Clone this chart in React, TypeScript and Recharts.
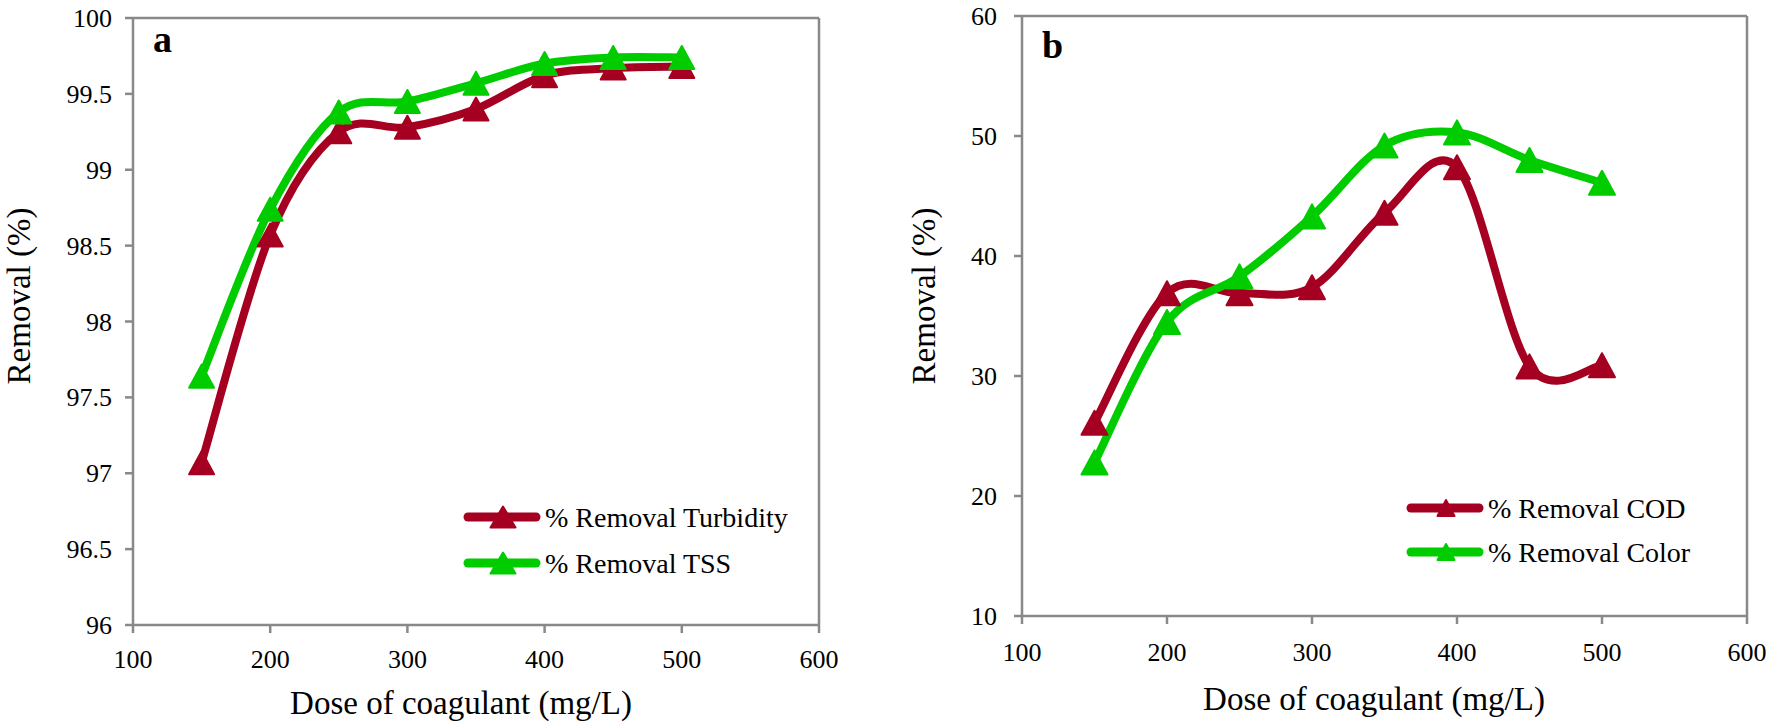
import { LineChart, Line, XAxis, YAxis, ReferenceLine, Legend } from 'recharts'

// coagulant dose (mg/L)
const doses = [150, 200, 250, 300, 350, 400, 450, 500]
// panel a
const turbidity = [97.07, 98.57, 99.25, 99.28, 99.4, 99.62, 99.67, 99.68]
const tss = [97.64, 98.74, 99.38, 99.45, 99.57, 99.7, 99.74, 99.74]
// panel b
const cod = [26.1, 36.9, 36.9, 37.4, 43.6, 47.4, 30.8, 30.9]
const color = [22.8, 34.5, 38.3, 43.3, 49.2, 50.3, 48.0, 46.1]

const xTicks = [100, 200, 300, 400, 500, 600]
const yTicksA = [96, 96.5, 97, 97.5, 98, 98.5, 99, 99.5, 100]
const yTicksB = [10, 20, 30, 40, 50, 60]

const RED = '#A50021'
const GREEN = '#00CC00'
const AXIS = '#898989'
const FONT = "'Liberation Serif', 'Times New Roman', Times, serif"

const dataA = doses.map((dose, i) => ({ dose, turbidity: turbidity[i], tss: tss[i] }))
const dataB = doses.map((dose, i) => ({ dose, cod: cod[i], color: color[i] }))

/**
 * excelSmooth
 * Catmull-Rom style curve, close to Excel's "smoothed line".
 */
function excelSmooth(context: any) {
  let pts: [number, number][] = []
  return {
    areaStart() {},
    areaEnd() {},
    lineStart() {
      pts = []
    },
    lineEnd() {
      const n = pts.length
      if (!n) return
      context.moveTo(pts[0][0], pts[0][1])
      for (let i = 0; i < n - 1; i++) {
        const p0 = pts[i - 1] || pts[i]
        const p1 = pts[i]
        const p2 = pts[i + 1]
        const p3 = pts[i + 2] || p2
        context.bezierCurveTo(
          p1[0] + (p2[0] - p0[0]) / 6,
          p1[1] + (p2[1] - p0[1]) / 6,
          p2[0] - (p3[0] - p1[0]) / 6,
          p2[1] - (p3[1] - p1[1]) / 6,
          p2[0],
          p2[1],
        )
      }
    },
    point(x: number, y: number) {
      pts.push([+x, +y])
    },
  }
}

function Tri({ cx, cy, fill, w = 25, h = 23 }: any) {
  if (cx == null || cy == null) return <g />
  return (
    <polygon
      points={`${cx},${cy - h / 2} ${cx + w / 2},${cy + h / 2} ${cx - w / 2},${cy + h / 2}`}
      fill={fill}
      stroke={fill}
      strokeWidth={2}
      strokeLinejoin="round"
    />
  )
}

function XTick({ x, y, payload }: any) {
  return (
    <text x={x} y={y} dy="0.71em" textAnchor="middle" fontFamily={FONT} fontSize={26} fill="#000">
      {payload.value}
    </text>
  )
}

function YTick({ x, y, payload }: any) {
  return (
    <text x={x} y={y} dy="0.35em" textAnchor="end" fontFamily={FONT} fontSize={26} fill="#000">
      {payload.value}
    </text>
  )
}

interface LegendItem {
  name: string
  color: string
}

function LegendBox({ items, rowH, tw, th }: { items: LegendItem[]; rowH: number; tw: number; th: number }) {
  const w = 78
  return (
    <svg width={380} height={rowH * items.length} style={{ display: 'block' }}>
      {items.map((it, i) => {
        const cy = rowH * i + rowH / 2
        return (
          <g key={it.name}>
            <line x1={5} x2={w - 5} y1={cy} y2={cy} stroke={it.color} strokeWidth={9} strokeLinecap="round" />
            <Tri cx={w / 2 + 1} cy={cy} fill={it.color} w={tw} h={th} />
            <text x={w + 4} y={cy} dy="0.35em" fontFamily={FONT} fontSize={28} fill="#000">
              {it.name}
            </text>
          </g>
        )
      })}
    </svg>
  )
}

export default function App() {
  return (
    <div style={{ position: 'absolute', left: 0, top: 0, width: 1769, height: 724, background: '#fff', fontFamily: FONT }}>
      <div style={{ position: 'absolute', left: 0, top: 0 }}>
        <LineChart width={840} height={724} data={dataA} margin={{ top: 18, right: 21, bottom: 0, left: 0 }}>
          <XAxis
            dataKey="dose"
            type="number"
            domain={[100, 600]}
            ticks={xTicks}
            interval={0}
            height={99}
            stroke={AXIS}
            strokeWidth={2.5}
            tickSize={8}
            tickMargin={17}
            tick={<XTick />}
          />
          <YAxis
            type="number"
            domain={[96, 100]}
            ticks={yTicksA}
            interval={0}
            width={133}
            stroke={AXIS}
            strokeWidth={2.5}
            tickSize={8}
            tickMargin={13}
            tick={<YTick />}
          />
          <ReferenceLine y={100} stroke={AXIS} strokeWidth={2.5} />
          <ReferenceLine x={600} stroke={AXIS} strokeWidth={2.5} />
          <Line
            dataKey="turbidity"
            name="% Removal Turbidity"
            type={excelSmooth as any}
            stroke={RED}
            strokeWidth={8}
            strokeLinecap="round"
            dot={(p: any) => <Tri key={`ta-${p.index}`} cx={p.cx} cy={p.cy} fill={RED} />}
            isAnimationActive={false}
          />
          <Line
            dataKey="tss"
            name="% Removal TSS"
            type={excelSmooth as any}
            stroke={GREEN}
            strokeWidth={8}
            strokeLinecap="round"
            dot={(p: any) => <Tri key={`sa-${p.index}`} cx={p.cx} cy={p.cy} fill={GREEN} />}
            isAnimationActive={false}
          />
          <Legend
            layout="vertical"
            align="center"
            verticalAlign="middle"
            wrapperStyle={{ left: 463, top: 494, width: 380 }}
            content={() => (
              <LegendBox
                rowH={46}
                tw={25}
                th={21}
                items={[
                  { name: '% Removal Turbidity', color: RED },
                  { name: '% Removal TSS', color: GREEN },
                ]}
              />
            )}
          />
        </LineChart>
      </div>

      <div style={{ position: 'absolute', left: 880, top: 0 }}>
        <LineChart width={889} height={724} data={dataB} margin={{ top: 16, right: 22, bottom: 0, left: 0 }}>
          <XAxis
            dataKey="dose"
            type="number"
            domain={[100, 600]}
            ticks={xTicks}
            interval={0}
            height={108}
            stroke={AXIS}
            strokeWidth={2.5}
            tickSize={8}
            tickMargin={19}
            tick={<XTick />}
          />
          <YAxis
            type="number"
            domain={[10, 60]}
            ticks={yTicksB}
            interval={0}
            width={142}
            stroke={AXIS}
            strokeWidth={2.5}
            tickSize={8}
            tickMargin={17}
            tick={<YTick />}
          />
          <ReferenceLine y={60} stroke={AXIS} strokeWidth={2.5} />
          <ReferenceLine x={600} stroke={AXIS} strokeWidth={2.5} />
          <Line
            dataKey="cod"
            name="% Removal COD"
            type={excelSmooth as any}
            stroke={RED}
            strokeWidth={8}
            strokeLinecap="round"
            dot={(p: any) => <Tri key={`cb-${p.index}`} cx={p.cx} cy={p.cy} fill={RED} w={26} h={24} />}
            isAnimationActive={false}
          />
          <Line
            dataKey="color"
            name="% Removal Color"
            type={excelSmooth as any}
            stroke={GREEN}
            strokeWidth={8}
            strokeLinecap="round"
            dot={(p: any) => <Tri key={`lb-${p.index}`} cx={p.cx} cy={p.cy} fill={GREEN} w={26} h={24} />}
            isAnimationActive={false}
          />
          <Legend
            layout="vertical"
            align="center"
            verticalAlign="middle"
            wrapperStyle={{ left: 526, top: 486, width: 340 }}
            content={() => (
              <LegendBox
                rowH={44}
                tw={17}
                th={16}
                items={[
                  { name: '% Removal COD', color: RED },
                  { name: '% Removal Color', color: GREEN },
                ]}
              />
            )}
          />
        </LineChart>
      </div>

      <svg width={1769} height={724} style={{ position: 'absolute', left: 0, top: 0, pointerEvents: 'none' }}>
        <g fontFamily={FONT} fill="#000">
          <text x={153} y={52} fontSize={38} fontWeight="bold">a</text>
          <text x={1042} y={58} fontSize={38} fontWeight="bold">b</text>
          <text x={461} y={714} fontSize={33} textAnchor="middle">Dose of coagulant (mg/L)</text>
          <text x={1374} y={710} fontSize={33} textAnchor="middle">Dose of coagulant (mg/L)</text>
          <text x={30} y={296} fontSize={33} textAnchor="middle" transform="rotate(-90 30 296)">Removal (%)</text>
          <text x={935} y={296} fontSize={33} textAnchor="middle" transform="rotate(-90 935 296)">Removal (%)</text>
        </g>
      </svg>
    </div>
  )
}
